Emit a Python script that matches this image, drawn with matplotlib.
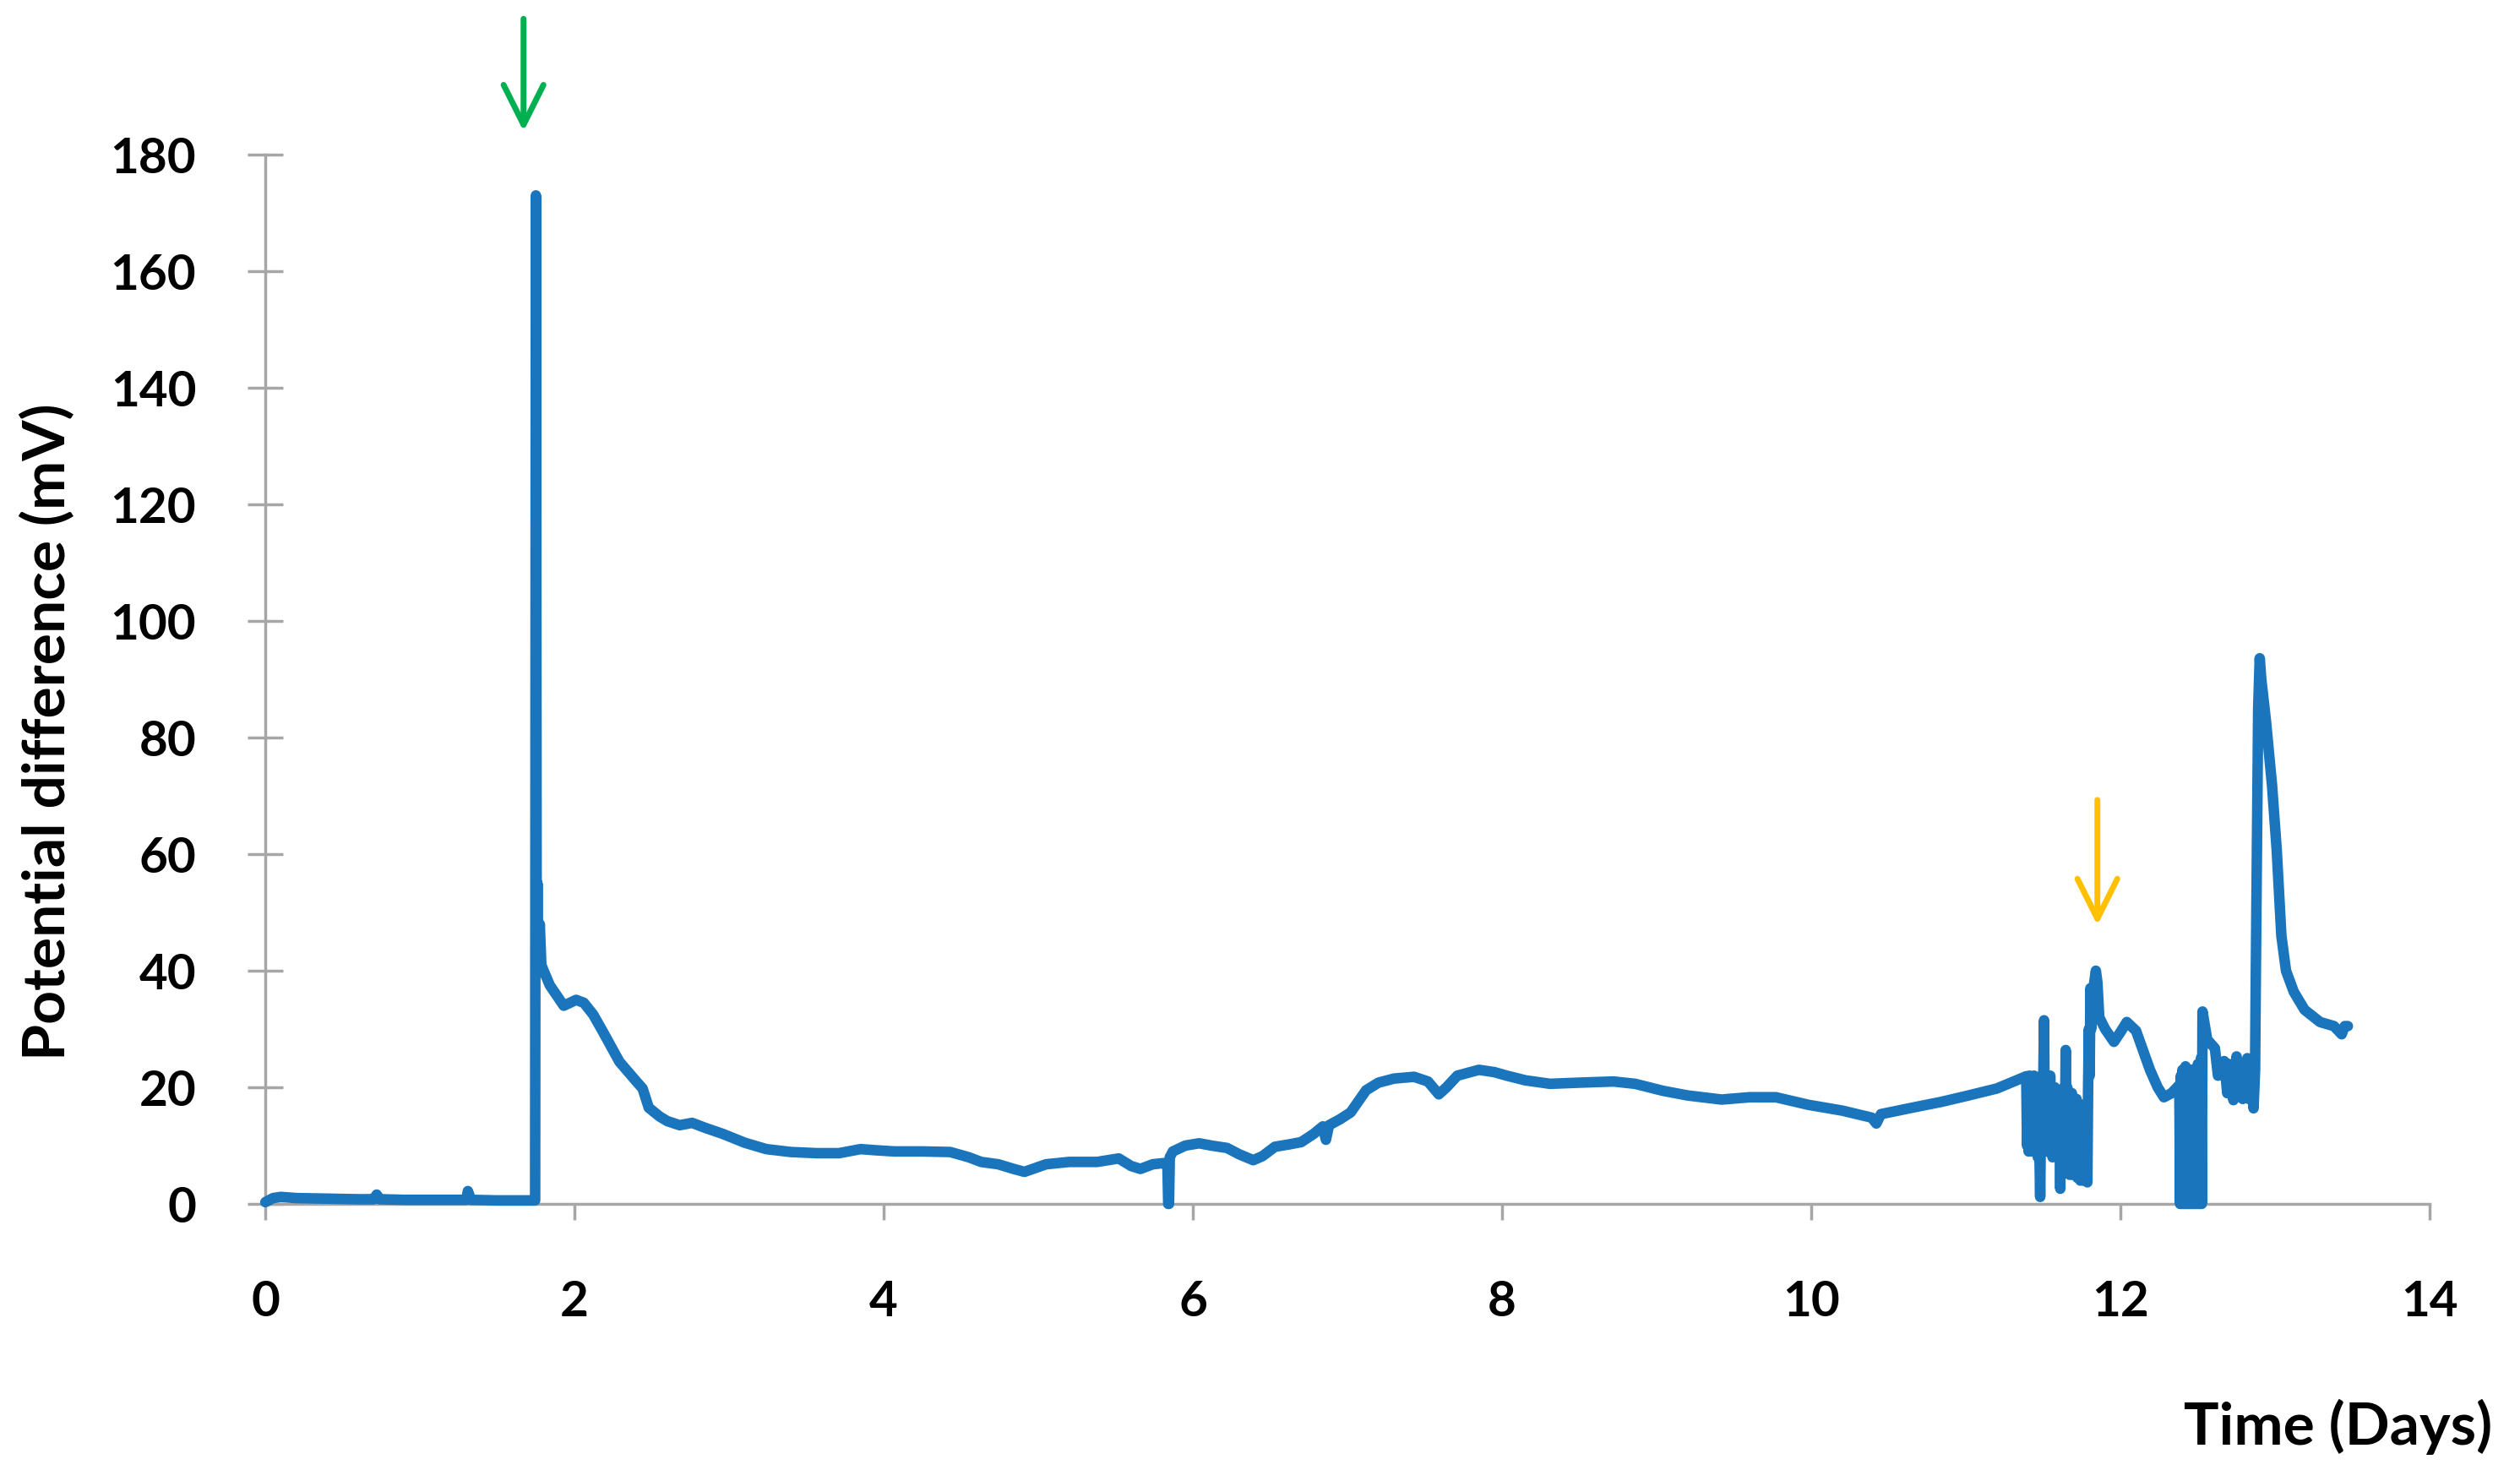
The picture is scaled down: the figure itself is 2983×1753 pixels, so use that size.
import matplotlib.pyplot as plt
import numpy as np

plt.rcParams['font.family'] = ['Lato', 'DejaVu Sans']
plt.rcParams['font.weight'] = 'bold'
plt.rcParams['path.simplify'] = False

# baseline before the first event
early_days = [0.0, 0.05, 0.1, 0.2, 0.4, 0.6, 0.7, 0.72, 0.74, 0.9, 1.1, 1.3, 1.31, 1.33, 1.5, 1.7, 1.745]
early_mv = [0.3, 1.0, 1.2, 1.0, 0.9, 0.8, 0.8, 1.6, 0.8, 0.7, 0.7, 0.7, 2.2, 0.7, 0.6, 0.6, 0.6]

# spike and decay
decay_days = [1.75, 1.755, 1.76, 1.765, 1.775, 1.785, 1.80, 1.84, 1.93, 2.01, 2.06, 2.12, 2.18,
              2.29, 2.40, 2.44, 2.48, 2.55, 2.60, 2.68, 2.76, 2.85, 2.96, 3.1, 3.24, 3.4, 3.57,
              3.71, 3.85, 3.95, 4.07, 4.25, 4.43, 4.55, 4.63, 4.74, 4.84, 4.91, 5.05, 5.2, 5.38,
              5.52, 5.60, 5.66, 5.74, 5.81, 5.835, 5.84, 5.845, 5.85, 5.87]
decay_mv = [173, 42, 55, 42, 48, 41, 40, 37.5, 34, 35, 34.5, 32.5, 29.7,
            24.4, 21, 19.8, 16.5, 15, 14.2, 13.5, 13.9, 13, 12, 10.5, 9.4, 8.9, 8.7,
            8.7, 9.4, 9.2, 9.0, 9.0, 8.9, 8.0, 7.2, 6.8, 6.0, 5.5, 6.8, 7.2, 7.2,
            7.8, 6.5, 6.0, 6.8, 7.0, 6.5, 0, 0, 8.0, 9.0]

# slow rise and plateau
plateau_days = [5.95, 6.04, 6.12, 6.22, 6.30, 6.39, 6.45, 6.53, 6.62, 6.70, 6.78, 6.84, 6.86,
                6.88, 6.95, 7.02, 7.12, 7.20, 7.30, 7.43, 7.52, 7.59, 7.64, 7.71, 7.85, 7.95,
                8.03, 8.15, 8.31, 8.5, 8.72, 8.86, 9.04, 9.2, 9.42, 9.6, 9.77, 9.98, 10.2,
                10.39, 10.42, 10.45, 10.67, 10.84, 11.0, 11.2, 11.39]
plateau_mv = [10.0, 10.4, 10.0, 9.6, 8.5, 7.5, 8.2, 9.8, 10.2, 10.6, 12, 13.3, 11,
              13.5, 14.5, 15.7, 19.5, 20.8, 21.5, 21.8, 21, 18.8, 20, 22, 23, 22.6,
              22, 21.2, 20.6, 20.8, 21, 20.6, 19.4, 18.6, 17.9, 18.3, 18.3, 17.0, 16.0,
              14.8, 13.8, 15.4, 16.6, 17.5, 18.5, 19.8, 21.9]

# unstable section before the second event
noisy_days = [11.395, 11.40, 11.405, 11.41, 11.415, 11.42, 11.425, 11.43, 11.435, 11.44,
              11.445, 11.45, 11.455, 11.46, 11.465, 11.47, 11.475, 11.48, 11.485, 11.49,
              11.495, 11.50, 11.505, 11.51, 11.515, 11.52, 11.525, 11.53, 11.535, 11.54,
              11.545, 11.55, 11.555, 11.56, 11.565, 11.57, 11.575, 11.58, 11.585, 11.59,
              11.595, 11.60, 11.605, 11.61, 11.615, 11.62, 11.625, 11.63, 11.635, 11.64,
              11.645, 11.65, 11.655, 11.66, 11.665, 11.67, 11.675, 11.68, 11.685, 11.69,
              11.695, 11.70, 11.705, 11.71, 11.715, 11.72, 11.725, 11.73, 11.735, 11.74,
              11.745, 11.75, 11.755, 11.76, 11.765, 11.77, 11.775, 11.78, 11.785, 11.79,
              11.795, 11.80, 11.805, 11.81, 11.82, 11.83, 11.84, 11.85]
noisy_mv = [10, 21, 9, 22, 10, 21, 9, 20, 11, 22,
            9, 21, 10, 20, 8, 21, 9, 1.2, 14, 22,
            10, 21, 31.5, 12, 21, 9, 22, 10, 21, 9,
            22, 10, 20, 8, 19, 10, 20, 9, 19, 8,
            18, 9, 17, 2.6, 18, 9, 19, 8, 20, 9,
            26.4, 8, 20, 6, 19, 5, 18, 6, 19, 5,
            18, 6, 17, 5, 18, 4.5, 17, 5, 16, 4,
            17, 5, 16, 4, 15, 5, 16, 4, 3.7, 20,
            30, 22, 37, 30, 36, 38, 40, 38]

# after the second event and final peak
late_days = [11.862, 11.90, 11.957, 12.0, 12.04, 12.10, 12.19, 12.24, 12.28, 12.33, 12.38,
             12.385, 12.39, 12.395, 12.40, 12.405, 12.41, 12.415, 12.42, 12.425, 12.43,
             12.435, 12.44, 12.445, 12.45, 12.455, 12.46, 12.465, 12.47, 12.475, 12.48,
             12.485, 12.49, 12.495, 12.50, 12.505, 12.51, 12.515, 12.52, 12.525, 12.53,
             12.56, 12.61, 12.63, 12.67, 12.69, 12.70, 12.71, 12.73, 12.75, 12.76, 12.78,
             12.79, 12.80, 12.81, 12.82, 12.83, 12.84, 12.86, 12.87, 12.875, 12.89, 12.90,
             12.91, 12.94, 12.98, 13.01, 13.04, 13.07, 13.12, 13.19, 13.29, 13.38, 13.43,
             13.45, 13.47]
late_mv = [32, 30, 27.8, 29.5, 31.2, 29.7, 23, 20, 18.3, 19, 20.4,
           0, 22, 0, 23, 0, 22, 0, 23.6, 0, 22,
           0, 23, 0, 22, 0, 23, 0, 22, 0, 23,
           0, 22, 0, 24, 0, 23, 0, 25, 0, 33,
           28.2, 26.7, 22, 24.5, 19, 24, 20, 17.8, 25.3, 19, 24,
           18, 24, 19, 25, 18, 24, 16.4, 23, 40, 85, 93.6,
           90, 82.9, 71.7, 60.7, 46, 40, 36.4, 33.3, 31.2, 30.5, 29.1,
           30.5, 30.5]

# event markers (day, arrow top, arrow tip, colour)
arrow_days = [1.67, 11.85]
arrow_tops = [203.3, 69.3]
arrow_tips = [184.0, 47.8]
arrow_colors = ['#00B050', '#FFC000']

days = np.concatenate([early_days, decay_days, plateau_days, noisy_days, late_days])
mv = np.concatenate([early_mv, decay_mv, plateau_mv, noisy_mv, late_mv])

fig = plt.figure(figsize=(29.83, 17.53), dpi=100, facecolor='white')
ax = fig.add_axes([0.1053, 0.1871, 0.8589, 0.7085])

ax.plot(days, mv, color='#1A75BC', lw=9, solid_joinstyle='round',
        solid_capstyle='round', clip_on=False, zorder=3)

for d, top, tip, c in zip(arrow_days, arrow_tops, arrow_tips, arrow_colors):
    ax.annotate('', xy=(d, tip), xytext=(d, top), annotation_clip=False,
                arrowprops=dict(arrowstyle='->, head_length=2.0, head_width=1.0',
                                mutation_scale=17, color=c, lw=5,
                                shrinkA=0, shrinkB=0))

ax.set_xlim(0, 14)
ax.set_ylim(0, 180)
ax.set_xticks(np.arange(0, 15, 2))
ax.set_yticks(np.arange(0, 181, 20))

for side in ['top', 'right']:
    ax.spines[side].set_visible(False)
for side in ['left', 'bottom']:
    ax.spines[side].set_color('#A6A6A6')
    ax.spines[side].set_linewidth(2.5)

ax.tick_params(axis='y', direction='inout', length=30, width=2.5, color='#A6A6A6',
               pad=44, labelsize=42)
ax.tick_params(axis='x', direction='out', length=14, width=2.5, color='#A6A6A6',
               pad=51, labelsize=42)

fig.text(57 / 2983, 1 - 866 / 1753, 'Potential difference (mV)', rotation=90,
         ha='center', va='center', fontsize=50, fontweight='bold')
fig.text(2768 / 2983, 1 - 1689 / 1753, 'Time (Days)', ha='center', va='center',
         fontsize=50, fontweight='bold')

fig.savefig('out.png', dpi=100, facecolor='white')
plt.close(fig)
